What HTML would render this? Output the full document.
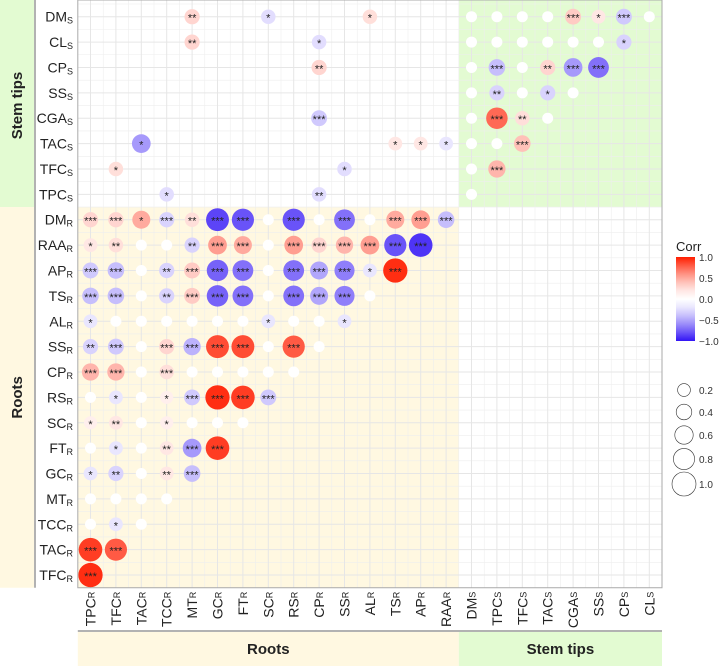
<!DOCTYPE html>
<html><head><meta charset="utf-8"><style>
body{margin:0;background:#fff;width:721px;height:666px;overflow:hidden}
svg{display:block;font-family:"Liberation Sans",Arial,sans-serif}
</style></head><body>
<svg id="c" width="721" height="666"></svg>
<script>
const rowNames=[["DM","S"],["CL","S"],["CP","S"],["SS","S"],["CGA","S"],["TAC","S"],["TFC","S"],["TPC","S"],["DM","R"],["RAA","R"],["AP","R"],["TS","R"],["AL","R"],["SS","R"],["CP","R"],["RS","R"],["SC","R"],["FT","R"],["GC","R"],["MT","R"],["TCC","R"],["TAC","R"],["TFC","R"]];
const colNames=[["TPC","R"],["TFC","R"],["TAC","R"],["TCC","R"],["MT","R"],["GC","R"],["FT","R"],["SC","R"],["RS","R"],["CP","R"],["SS","R"],["AL","R"],["TS","R"],["AP","R"],["RAA","R"],["DM","S"],["TPC","S"],["TFC","S"],["TAC","S"],["CGA","S"],["SS","S"],["CP","S"],["CL","S"]];
// cells: [row, col, corr, stars]
const cells=[
[0,4,0.3,"**"],[0,7,-0.25,"*"],[0,11,0.25,"*"],[0,15,0,""],[0,16,0,""],[0,17,0,""],[0,18,0,""],[0,19,0.35,"***"],[0,20,0.2,"*"],[0,21,-0.35,"***"],[0,22,0,""],
[1,4,0.3,"**"],[1,9,-0.25,"*"],[1,15,0,""],[1,16,0,""],[1,17,0,""],[1,18,0,""],[1,19,0,""],[1,20,0,""],[1,21,-0.3,"*"],
[2,9,0.3,"**"],[2,15,0,""],[2,16,-0.4,"***"],[2,17,0,""],[2,18,0.3,"**"],[2,19,-0.55,"***"],[2,20,-0.7,"***"],
[3,15,0,""],[3,16,-0.3,"**"],[3,17,0,""],[3,18,-0.3,"*"],[3,19,0,""],
[4,9,-0.35,"***"],[4,15,0,""],[4,16,0.75,"***"],[4,17,0.25,"**"],[4,18,0,""],
[5,2,-0.55,"*"],[5,12,0.2,"*"],[5,13,0.2,"*"],[5,14,-0.2,"*"],[5,15,0,""],[5,16,0,""],[5,17,0.4,"***"],
[6,1,0.25,"*"],[6,10,-0.25,"*"],[6,15,0,""],[6,16,0.45,"***"],
[7,3,-0.25,"*"],[7,9,-0.25,"**"],[7,15,0,""],
[8,0,0.3,"***"],[8,1,0.3,"***"],[8,2,0.5,"*"],[8,3,-0.3,"***"],[8,4,0.25,"**"],[8,5,-0.85,"***"],[8,6,-0.8,"***"],[8,7,0,""],[8,8,-0.8,"***"],[8,9,0,""],[8,10,-0.7,"***"],[8,11,0,""],[8,12,0.5,"***"],[8,13,0.55,"***"],[8,14,-0.4,"***"],
[9,0,0.2,"*"],[9,1,0.25,"**"],[9,2,0,""],[9,3,0,""],[9,4,-0.3,"**"],[9,5,0.55,"***"],[9,6,0.5,"***"],[9,7,0,""],[9,8,0.55,"***"],[9,9,0.3,"***"],[9,10,0.45,"***"],[9,11,0.55,"***"],[9,12,-0.8,"***"],[9,13,-0.9,"***"],
[10,0,-0.35,"***"],[10,1,-0.4,"***"],[10,2,0,""],[10,3,-0.3,"**"],[10,4,0.35,"***"],[10,5,-0.75,"***"],[10,6,-0.7,"***"],[10,7,0,""],[10,8,-0.7,"***"],[10,9,-0.5,"***"],[10,10,-0.65,"***"],[10,11,-0.2,"*"],[10,12,0.95,"***"],
[11,0,-0.4,"***"],[11,1,-0.4,"***"],[11,2,0,""],[11,3,-0.3,"**"],[11,4,0.35,"***"],[11,5,-0.75,"***"],[11,6,-0.7,"***"],[11,7,0,""],[11,8,-0.7,"***"],[11,9,-0.5,"***"],[11,10,-0.65,"***"],[11,11,0,""],
[12,0,-0.2,"*"],[12,1,0,""],[12,2,0,""],[12,3,0,""],[12,4,0,""],[12,5,0,""],[12,6,0,""],[12,7,-0.2,"*"],[12,8,0,""],[12,9,0,""],[12,10,-0.2,"*"],
[13,0,-0.3,"**"],[13,1,-0.35,"***"],[13,2,0,""],[13,3,0.3,"***"],[13,4,-0.45,"***"],[13,5,0.85,"***"],[13,6,0.85,"***"],[13,7,0,""],[13,8,0.8,"***"],[13,9,0,""],
[14,0,0.45,"***"],[14,1,0.45,"***"],[14,2,0,""],[14,3,0.25,"***"],[14,4,0,""],[14,5,0,""],[14,6,0,""],[14,7,0,""],[14,8,0,""],
[15,0,0,""],[15,1,-0.2,"*"],[15,2,0,""],[15,3,0.15,"*"],[15,4,-0.35,"***"],[15,5,0.95,"***"],[15,6,0.9,"***"],[15,7,-0.35,"***"],
[16,0,0.15,"*"],[16,1,0.2,"**"],[16,2,0,""],[16,3,0.15,"*"],[16,4,0,""],[16,5,0,""],[16,6,0,""],
[17,0,0,""],[17,1,-0.2,"*"],[17,2,0,""],[17,3,0.2,"**"],[17,4,-0.55,"***"],[17,5,0.9,"***"],
[18,0,-0.2,"*"],[18,1,-0.3,"**"],[18,2,0,""],[18,3,0.2,"**"],[18,4,-0.4,"***"],
[19,0,0,""],[19,1,0,""],[19,2,0,""],[19,3,0,""],
[20,0,0,""],[20,1,-0.2,"*"],[20,2,0,""],
[21,0,0.9,"***"],[21,1,0.8,"***"],
[22,0,0.95,"***"]
];
const legendValues=[0.2,0.4,0.6,0.8,1.0];
const colorTicks=[1.0,0.5,0.0,-0.5,-1.0];

const svg=document.getElementById('c');
const NS="http://www.w3.org/2000/svg";
function mk(t,a,p){const e=document.createElementNS(NS,t);for(const k in a)e.setAttribute(k,a[k]);(p||svg).appendChild(e);return e;}
const X0=77.8,CW=25.4,Y0=4,RH=25.38;
const xS=i=>X0+CW*(i+0.5), yS=j=>Y0+RH*(j+0.5);
const px=v=>X0+CW*v, py=v=>Y0+RH*v;
const rad=v=>5.5+7*Math.abs(v);
function col(v){
  const lo=[50,20,245],hi=[255,30,0],w=[255,255,255];
  const t=Math.min(1,Math.abs(v)), e=v<0?lo:hi;
  const f=Math.pow(t,1.4);
  const c=w.map((x,k)=>Math.round(x+(e[k]-x)*f));
  return `rgb(${c[0]},${c[1]},${c[2]})`;
}
let e;
e=mk('rect',{x:px(15),y:0,width:px(23)-px(15),height:py(8),fill:'#e3fbd2'});
e=mk('rect',{x:X0,y:py(8),width:px(15)-X0,height:py(23)-py(8),fill:'#fff8e1'});
const g=mk('g',{});
for(let i=0;i<=23;i++){mk('line',{x1:px(i),x2:px(i),y1:0,y2:py(23),stroke:'#eeeeee','stroke-width':0.6},g);mk('line',{x1:X0,x2:px(23),y1:py(i),y2:py(i),stroke:'#eeeeee','stroke-width':0.6},g);}
for(let i=0;i<23;i++){mk('line',{x1:xS(i),x2:xS(i),y1:0,y2:py(23),stroke:'#e6e6e6','stroke-width':1},g);mk('line',{x1:X0,x2:px(23),y1:yS(i),y2:yS(i),stroke:'#e6e6e6','stroke-width':1},g);}
cells.forEach(c=>{
  const [r,cc,v,s]=c;
  const ci=mk('circle',{cx:xS(cc),cy:yS(r),r:rad(v),fill:col(v)});
  
  
  if(s){const t=mk('text',{x:xS(cc),y:yS(r)+5,'text-anchor':'middle','font-size':11,fill:'#222'});t.textContent=s;
    
    }
});
e=mk('rect',{x:X0,y:0,width:px(23)-X0,height:py(23),fill:'none',stroke:'#aaa','stroke-width':1});
mk('line',{x1:35,x2:35,y1:0,y2:py(23),stroke:'#999','stroke-width':1.5});
mk('line',{x1:X0,x2:px(23),y1:631,y2:631,stroke:'#999','stroke-width':1.5});
rowNames.forEach((n,j)=>{const t=mk('text',{x:73,y:yS(j)+5,'text-anchor':'end','font-size':14,fill:'#222'});
  t.innerHTML=n[0]+'<tspan font-size="9" dy="2">'+n[1]+'</tspan>';
  
  });
colNames.forEach((n,i)=>{const t=mk('text',{x:0,y:0,'text-anchor':'end','font-size':14,fill:'#222',transform:`translate(${xS(i)+5},${py(23)+4}) rotate(-90)`});
  t.innerHTML=n[0]+'<tspan font-size="9" dy="-1">'+n[1]+'</tspan>';
  
  });
e=mk('rect',{x:0,y:0,width:34,height:py(8),fill:'#e3fbd2'});
e=mk('rect',{x:0,y:py(8),width:34,height:py(23)-py(8),fill:'#fff8e1'});
e=mk('rect',{x:X0,y:632,width:px(15)-X0,height:34,fill:'#fff8e1'});
e=mk('rect',{x:px(15),y:632,width:px(23)-px(15),height:34,fill:'#e3fbd2'});
function lab(txt,x,y,rot,name){const t=mk('text',{x:0,y:0,'text-anchor':'middle','font-size':15,'font-weight':'bold',fill:'#222',transform:`translate(${x},${y}) rotate(${rot})`});t.textContent=txt;}
lab('Stem tips',22,py(4),-90,'stem-tips-strip-label');
lab('Roots',22,(py(8)+py(23))/2,-90,'roots-strip-label');
lab('Roots',(X0+px(15))/2,654,0,'roots-bottom-label');
lab('Stem tips',(px(15)+px(23))/2,654,0,'stem-tips-bottom-label');
const lg=mk('g',{});
let t=mk('text',{x:676,y:251,'font-size':13,fill:'#222'},lg);t.textContent='Corr';
const defs=mk('defs',{});const gr=mk('linearGradient',{id:'gb',x1:0,y1:0,x2:0,y2:1},defs);
for(let k=0;k<=10;k++){mk('stop',{offset:k/10,'stop-color':col(1-k/5)},gr);}
mk('rect',{x:676,y:257,width:19,height:84,fill:'url(#gb)'},lg);
colorTicks.forEach(v=>{const yy=257+(1-v)/2*84;const tt=mk('text',{x:699,y:yy+4,'font-size':10,fill:'#333'},lg);tt.textContent=(v<0?'\u2212':'')+Math.abs(v).toFixed(1);});
const ly=[390,412,435,459,484];
legendValues.forEach((v,k)=>{const c=mk('circle',{cx:684,cy:ly[k],r:rad(v)-0.5,fill:'#fff',stroke:'#333','stroke-width':0.6},lg);
  const tt=mk('text',{x:699,y:ly[k]+4,'font-size':10,fill:'#333'},lg);tt.textContent=v.toFixed(1);});
</script>
</body></html>
